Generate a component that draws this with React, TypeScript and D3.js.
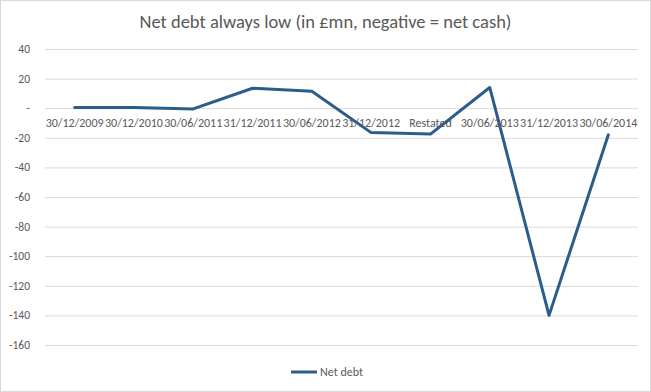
import React, { useRef, useEffect } from 'react';
import * as d3 from 'd3';

// --- DATA ---
const categories = [
  '30/12/2009', '30/12/2010', '30/06/2011', '31/12/2011', '30/06/2012',
  '31/12/2012', 'Restated', '30/06/2013', '31/12/2013', '30/06/2014',
];
const netDebt = [0.5, 0.5, -0.5, 13.5, 11.5, -16.5, -17.5, 14, -140, -18];
const yTicks = [40, 20, 0, -20, -40, -60, -80, -100, -120, -140, -160];

const W = 651;
const H = 392;

export default function App() {
  const svgRef = useRef<SVGSVGElement>(null);

  useEffect(() => {
    if (!svgRef.current) return;
    const svg = d3.select(svgRef.current);
    svg.selectAll('*').remove();

    const font = 'Carlito, Calibri, "Liberation Sans", Arial, sans-serif';

    // chart frame
    svg.append('rect')
      .attr('x', 0.5).attr('y', 0.5)
      .attr('width', W - 1).attr('height', H - 1)
      .attr('fill', '#fff')
      .attr('stroke', '#d9d9d9');

    const left = 45, right = 638;
    const x = d3.scaleBand<string>().domain(categories).range([left, right]);
    const y = d3.scaleLinear().domain([-160, 40]).range([345, 49]);

    // gridlines
    svg.append('g')
      .attr('transform', `translate(${left},0)`)
      .call(d3.axisLeft(y).tickValues(yTicks).tickSize(-(right - left)).tickFormat(() => ''))
      .call(g => g.select('.domain').remove())
      .call(g => g.selectAll('.tick line').attr('stroke', '#d9d9d9'));

    // y labels
    svg.append('g')
      .selectAll('text')
      .data(yTicks)
      .enter()
      .append('text')
      .attr('x', 30)
      .attr('y', d => y(d))
      .attr('dy', '0.35em')
      .attr('text-anchor', 'end')
      .attr('fill', '#595959')
      .style('font-family', font)
      .style('font-size', '11.5px')
      .text(d => (d === 0 ? '-' : String(d)));

    // line
    const line = d3.line<number>()
      .x((_, i) => (x(categories[i]) || 0) + x.bandwidth() / 2)
      .y(d => y(d));

    svg.append('path')
      .datum(netDebt)
      .attr('d', line)
      .attr('fill', 'none')
      .attr('stroke', '#2a5d8c')
      .attr('stroke-width', 3)
      .attr('stroke-linejoin', 'round')
      .attr('stroke-linecap', 'round');

    // category labels, drawn on top of line as in the original
    svg.append('g')
      .selectAll('text')
      .data(categories)
      .enter()
      .append('text')
      .attr('x', d => (x(d) || 0) + x.bandwidth() / 2)
      .attr('y', y(0) + 19)
      .attr('text-anchor', 'middle')
      .attr('fill', '#595959')
      .style('font-family', font)
      .style('font-size', '12px')
      .text(d => d);

    // title
    svg.append('text')
      .attr('x', W / 2)
      .attr('y', 28)
      .attr('text-anchor', 'middle')
      .attr('fill', '#595959')
      .style('font-family', font)
      .style('font-size', '18.5px')
      .text('Net debt always low (in £mn, negative = net cash)');

    // legend
    svg.append('line')
      .attr('x1', 291).attr('x2', 317)
      .attr('y1', 372).attr('y2', 372)
      .attr('stroke', '#2a5d8c')
      .attr('stroke-width', 3);
    svg.append('text')
      .attr('x', 320)
      .attr('y', 372)
      .attr('dy', '0.35em')
      .attr('fill', '#595959')
      .style('font-family', font)
      .style('font-size', '12px')
      .text('Net debt');
  }, []);

  return (
    <div style={{ position: 'fixed', left: 0, top: 0 }}>
      <svg ref={svgRef} width={W} height={H} style={{ display: 'block' }}></svg>
    </div>
  );
}
